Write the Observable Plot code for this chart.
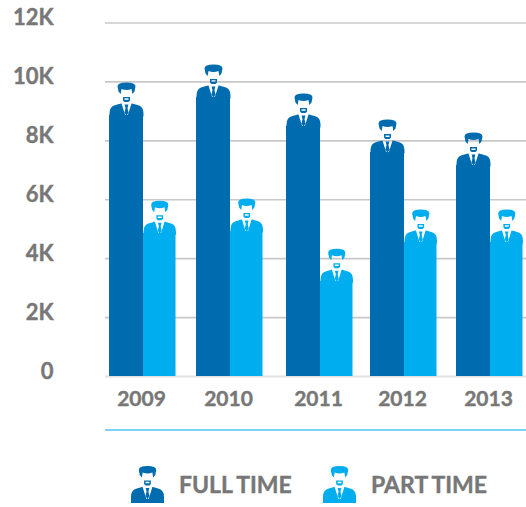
<!DOCTYPE html>
<html>
<head>
<meta charset="utf-8">
<script src="https://cdn.jsdelivr.net/npm/d3@7"></script>
<script src="https://cdn.jsdelivr.net/npm/@observablehq/plot@0.6"></script>
<style>
html,body{margin:0;padding:0;background:#fff;width:526px;height:507px;overflow:hidden}
#root{position:relative;width:526px;height:507px}
#divider{position:absolute;left:105px;right:0;top:429px;height:2px;background:#7fd2f7}
svg text{stroke:#777;stroke-width:.4px}
.leg{position:absolute;top:466px;height:38px;display:flex;align-items:center}
.leg span{font:700 23px Lato,sans-serif;color:#777;-webkit-text-stroke:.4px #777;letter-spacing:0;word-spacing:-1px;margin-left:15px;margin-top:-2px;white-space:pre}
</style>
</head>
<body>
<div id="root"></div>
<script>
const years = [2009, 2010, 2011, 2012, 2013];
const fullTime = [9.98, 10.59, 9.61, 8.72, 8.28];
const partTime = [5.97, 6.04, 4.34, 5.67, 5.67];
const yTicks = [0, 2, 4, 6, 8, 10, 12];
const seriesNames = ["FULL TIME", "PART TIME"];
const seriesColors = ["#006cb0", "#00aeef"];

// Pictograph figure: head and suit shoulders, origin at the top of the hair.
function figure(w, bodyEnd) {
  const k = w / 34;
  return {
    draw(c) {
      const P = (pts) => {
        pts.forEach(([x, y], i) => i ? c.lineTo(x * k, y) : c.moveTo(x * k, y));
        c.closePath();
      };
      // hair
      c.moveTo(-9 * k, 4);
      c.quadraticCurveTo(-9 * k, 0, 0, 0);
      c.quadraticCurveTo(9 * k, 0, 9 * k, 4);
      c.lineTo(8 * k, 9);
      c.lineTo(5.8 * k, 11.5);
      c.lineTo(5 * k, 6.5);
      c.quadraticCurveTo(0, 8.5, -5 * k, 6.5);
      c.lineTo(-5.8 * k, 11.5);
      c.lineTo(-8 * k, 9);
      c.closePath();
      // beard with mouth cut out
      P([[-3.5, 14.5], [3.5, 14.5], [3.5, 18], [2, 19.5], [-2, 19.5], [-3.5, 18]]);
      P([[-2, 15.8], [-2, 17.3], [2, 17.3], [2, 15.8]]);
      // suit
      c.moveTo(-17 * k, bodyEnd);
      c.lineTo(17 * k, bodyEnd);
      c.lineTo(17 * k, 31);
      c.quadraticCurveTo(17 * k, 23.5, 11 * k, 22.5);
      c.lineTo(5.5, 21);
      c.lineTo(-5.5, 21);
      c.lineTo(-11 * k, 22.5);
      c.quadraticCurveTo(-17 * k, 23.5, -17 * k, 31);
      c.closePath();
      // collar cut out (opposite winding), then the tie
      P([[-5, 21], [5, 21], [1.2, 33], [-1.2, 33]]);
      P([[-1.9, 22], [-1, 25.5], [-2, 30], [0, 33.5], [2, 30], [1, 25.5], [1.9, 22]]);
    }
  };
}

const rows = (vals, s) => years.map((year, i) => ({year, value: vals[i], series: s}));
const ft = rows(fullTime, seriesNames[0]);
const pt = rows(partTime, seriesNames[1]);
const figH = 34;

const chart = Plot.plot({
  width: 526,
  height: 425,
  marginLeft: 105,
  marginRight: 0,
  marginTop: 22.5,
  marginBottom: 49,
  style: {fontFamily: "Lato, sans-serif", fontSize: "22px", fontWeight: 700, color: "#777", background: "transparent"},
  x: {type: "linear", domain: years, range: [143, 230, 320, 404, 490]},
  y: {domain: [0, 12]},
  marks: [
    Plot.ruleY(yTicks.filter(d => d > 0), {stroke: "#c8c8c8", strokeWidth: 1.6}),
    Plot.ruleY([0], {stroke: "#e2e2e2", strokeWidth: 2}),
    Plot.axisY({ticks: yTicks, tickSize: 0, tickPadding: 52, dy: -5, tickFormat: d => d ? d + "K" : "0", label: null, marginLeft: 105}),
    Plot.axisX({ticks: years, tickSize: 0, tickPadding: 15, dx: -2, fontSize: 21, tickFormat: d => String(d), label: null, marginBottom: 49, style: {letterSpacing: "1px"}}),
    Plot.rectY(ft, {x1: "year", x2: "year", y: "value", fill: seriesColors[0], insetLeft: -34, insetTop: figH - 1}),
    Plot.rectY(pt, {x1: "year", x2: "year", y: "value", fill: seriesColors[1], insetRight: -32.5, insetTop: figH - 1}),
    Plot.dot(ft, {x: "year", y: "value", dx: -17, fill: seriesColors[0], stroke: "none", symbol: figure(34, figH)}),
    Plot.dot(pt, {x: "year", y: "value", dx: 16.25, fill: seriesColors[1], stroke: "none", symbol: figure(32.5, figH)})
  ]
});

const root = document.getElementById("root");
root.appendChild(chart);

const divider = document.createElement("div");
divider.id = "divider";
root.appendChild(divider);

[131, 323].forEach((left, i) => {
  const leg = document.createElement("div");
  leg.className = "leg";
  leg.style.left = left + "px";
  const path = d3.path();
  figure(33, 37).draw(path);
  leg.innerHTML = `<svg width="33" height="38" viewBox="-16.5 0 33 38"><path d="${path}" fill="${seriesColors[i]}"/></svg><span>${seriesNames[i]}</span>`;
  root.appendChild(leg);
});
</script>
</body>
</html>
